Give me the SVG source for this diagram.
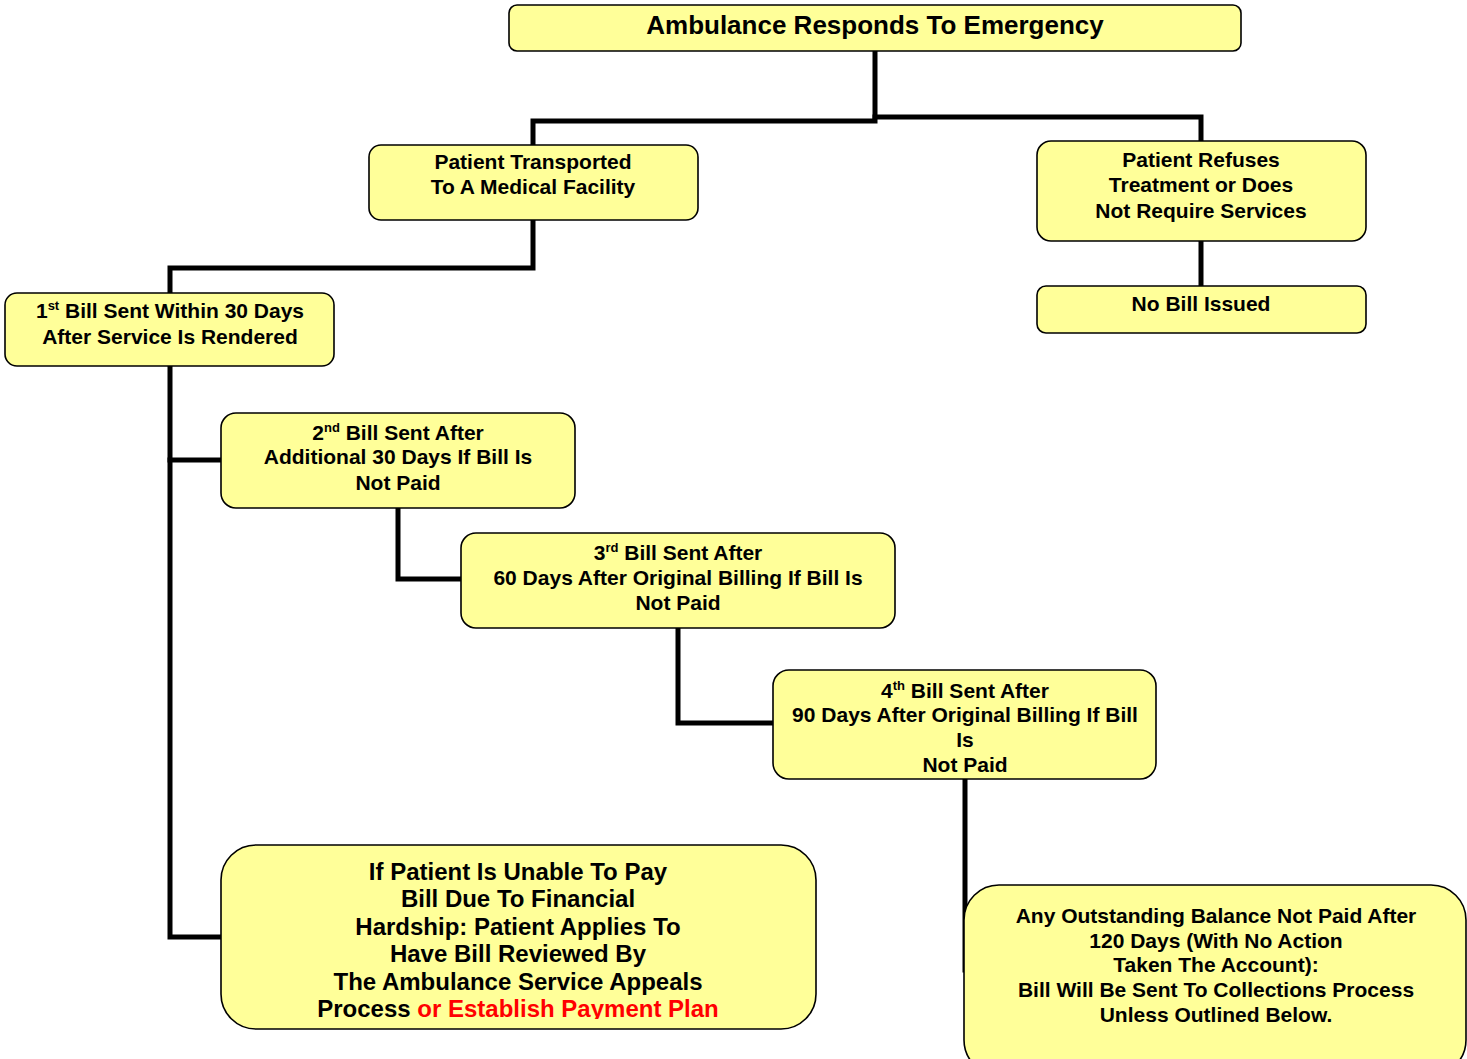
<svg xmlns="http://www.w3.org/2000/svg" width="1467" height="1059" viewBox="0 0 1467 1059">
<style>
.box{fill:#FFFF99;stroke:#000;stroke-width:1.6}
.t{font-family:"Liberation Sans",Arial,sans-serif;font-weight:bold;font-size:21px;fill:#000;text-anchor:middle}
.big{font-size:24px}
.title{font-size:26px}
.sup{font-size:13px}
.red{fill:#FF0000}
.conn{fill:none;stroke:#000;stroke-width:5;stroke-linejoin:miter;stroke-linecap:square}
</style>
<defs>
<clipPath id="clipBL"><rect x="221" y="845" width="596" height="174"/></clipPath>
</defs>
<rect width="1467" height="1059" fill="#fff"/>
<g id="connectors">
<path class="conn" d="M875 51 V121 H533 V145"/>
<path class="conn" d="M875 117 H1201 V141"/>
<path class="conn" d="M1201 241 V286"/>
<path class="conn" d="M533 220 V268 H170 V293"/>
<path class="conn" d="M170 366 V937 H221"/>
<path class="conn" d="M170 460 H221"/>
<path class="conn" d="M398 508 V579 H461"/>
<path class="conn" d="M678 628 V723 H773"/>
<path class="conn" d="M965 779 V970"/>
</g>
<g id="n-ambulance">
<rect class="box" x="509" y="5" width="732" height="46" rx="8"/>
<text class="t title" x="875" y="34">Ambulance Responds To Emergency</text>
</g>
<g id="n-transported">
<rect class="box" x="369" y="145" width="329" height="75" rx="12"/>
<text class="t" x="533" y="169">Patient Transported</text>
<text class="t" x="533" y="194">To A Medical Facility</text>
</g>
<g id="n-refuses">
<rect class="box" x="1037" y="141" width="329" height="100" rx="14"/>
<text class="t" x="1201" y="167">Patient Refuses</text>
<text class="t" x="1201" y="192">Treatment or Does</text>
<text class="t" x="1201" y="218">Not Require Services</text>
</g>
<g id="n-nobill">
<rect class="box" x="1037" y="286" width="329" height="47" rx="9"/>
<text class="t" x="1201" y="311">No Bill Issued</text>
</g>
<g id="n-bill1">
<rect class="box" x="5" y="293" width="329" height="73" rx="12"/>
<text class="t" x="170" y="318">1<tspan class="sup" dy="-8">st</tspan><tspan dy="8"> Bill Sent Within 30 Days</tspan></text>
<text class="t" x="170" y="344">After Service Is Rendered</text>
</g>
<g id="n-bill2">
<rect class="box" x="221" y="413" width="354" height="95" rx="15"/>
<text class="t" x="398" y="440">2<tspan class="sup" dy="-8">nd</tspan><tspan dy="8"> Bill Sent After</tspan></text>
<text class="t" x="398" y="464">Additional 30 Days If Bill Is</text>
<text class="t" x="398" y="490">Not Paid</text>
</g>
<g id="n-bill3">
<rect class="box" x="461" y="533" width="434" height="95" rx="15"/>
<text class="t" x="678" y="560">3<tspan class="sup" dy="-8">rd</tspan><tspan dy="8"> Bill Sent After</tspan></text>
<text class="t" x="678" y="585">60 Days After Original Billing If Bill Is</text>
<text class="t" x="678" y="610">Not Paid</text>
</g>
<g id="n-bill4">
<rect class="box" x="773" y="670" width="383" height="109" rx="16"/>
<text class="t" x="965" y="698">4<tspan class="sup" dy="-8">th</tspan><tspan dy="8"> Bill Sent After</tspan></text>
<text class="t" x="965" y="722">90 Days After Original Billing If Bill</text>
<text class="t" x="965" y="747">Is</text>
<text class="t" x="965" y="772">Not Paid</text>
</g>
<g id="n-hardship">
<rect class="box" x="221" y="845" width="595" height="184" rx="35"/>
<g clip-path="url(#clipBL)">
<text class="t big" x="518" y="880">If Patient Is Unable To Pay</text>
<text class="t big" x="518" y="907">Bill Due To Financial</text>
<text class="t big" x="518" y="935">Hardship: Patient Applies To</text>
<text class="t big" x="518" y="962">Have Bill Reviewed By</text>
<text class="t big" x="518" y="990">The Ambulance Service Appeals</text>
<text class="t big" x="518" y="1017">Process <tspan class="red">or Establish Payment Plan</tspan></text>
</g>
</g>
<g id="n-collections">
<rect class="box" x="964" y="885" width="502" height="190" rx="35"/>
<text class="t" x="1216" y="923">Any Outstanding Balance Not Paid After</text>
<text class="t" x="1216" y="948">120 Days (With No Action</text>
<text class="t" x="1216" y="972">Taken The Account):</text>
<text class="t" x="1216" y="997">Bill Will Be Sent To Collections Process</text>
<text class="t" x="1216" y="1022">Unless Outlined Below.</text>
</g>
</svg>
